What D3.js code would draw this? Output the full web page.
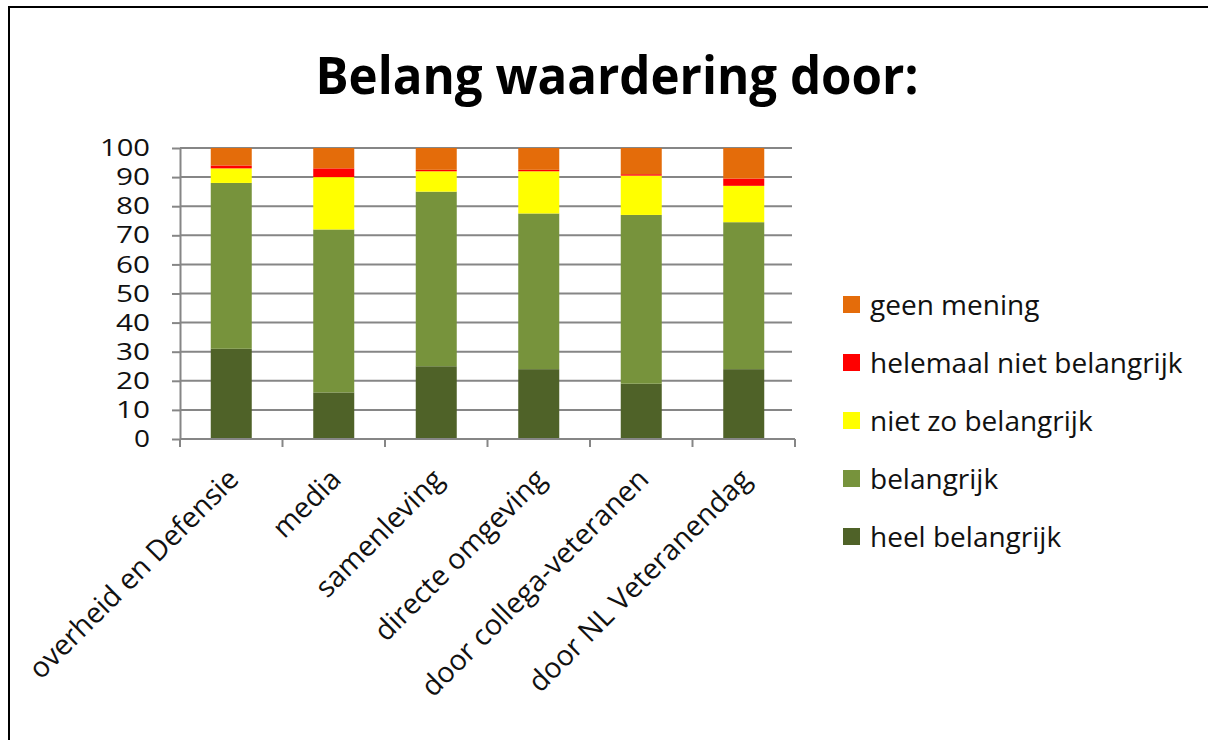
<!DOCTYPE html>
<meta charset="utf-8">
<title>Belang waardering door:</title>
<style>
  body { margin: 0; background-color: white; }
  text { font-family: "Open Sans", sans-serif; fill: #111; }
  .grid line { stroke: #868686; stroke-width: 2px; }
</style>
<svg width="1208" height="740"></svg>
<script src="https://cdn.jsdelivr.net/npm/d3@7"></script>
<script>
  // categories and series (percentages, stacked bottom to top)
  var categories = ["overheid en Defensie", "media", "samenleving", "directe omgeving",
                    "door collega-veteranen", "door NL Veteranendag"];
  var seriesNames = ["heel belangrijk", "belangrijk", "niet zo belangrijk",
                     "helemaal niet belangrijk", "geen mening"];
  var heelBelangrijk      = [31, 16, 25, 24, 19, 24];
  var belangrijk          = [57, 56, 60, 53.5, 58, 50.5];
  var nietZoBelangrijk    = [5, 18, 7, 14.5, 13.5, 12.5];
  var helemaalNiet        = [1, 3, 0.5, 0.5, 0.5, 2.5];
  var geenMening          = [6, 7, 7.5, 7.5, 9, 10.5];
  var yTicks = [0, 10, 20, 30, 40, 50, 60, 70, 80, 90, 100];
  var colors = ["#4f6228", "#77933c", "#ffff00", "#ff0000", "#e46c0a"];

  var svg = d3.select("svg");

  var table = categories.map(function(c, i) {
    return {
      cat: c,
      "heel belangrijk": heelBelangrijk[i],
      "belangrijk": belangrijk[i],
      "niet zo belangrijk": nietZoBelangrijk[i],
      "helemaal niet belangrijk": helemaalNiet[i],
      "geen mening": geenMening[i]
    };
  });

  var x = d3.scaleBand().domain(categories).range([180, 795])
            .paddingInner(0.6).paddingOuter(0.3);
  var y = d3.scaleLinear().domain([0, 100]).range([439, 148]);
  var color = d3.scaleOrdinal().domain(seriesNames).range(colors);

  // outer frame (left and top only)
  svg.append("path")
     .attr("d", "M9,740V7H1208")
     .attr("fill", "none")
     .attr("stroke", "#000")
     .attr("stroke-width", 2);

  svg.append("text")
     .attr("x", 617).attr("y", 94)
     .attr("text-anchor", "middle")
     .attr("textLength", 603).attr("lengthAdjust", "spacingAndGlyphs")
     .style("font-size", "52px").style("font-weight", "bold")
     .style("fill", "#000")
     .text("Belang waardering door:");

  // gridlines
  svg.append("g").attr("class", "grid")
     .selectAll("line").data(yTicks.slice(1)).enter().append("line")
     .attr("x1", 180).attr("x2", 792)
     .attr("y1", function(d) { return y(d); })
     .attr("y2", function(d) { return y(d); });

  // stacked bars
  var stack = d3.stack().keys(seriesNames)(table);
  svg.append("g").selectAll("g").data(stack).enter().append("g")
     .attr("fill", function(d) { return color(d.key); })
     .selectAll("rect").data(function(d) { return d; }).enter().append("rect")
     .attr("x", function(d) { return x(d.data.cat); })
     .attr("width", x.bandwidth())
     .attr("y", function(d) { return y(d[1]); })
     .attr("height", function(d) { return y(d[0]) - y(d[1]); });

  // y axis
  var yAxis = svg.append("g").attr("transform", "translate(180,0)")
     .call(d3.axisLeft(y).tickValues(yTicks).tickSizeInner(8).tickSizeOuter(0).tickPadding(22));
  yAxis.select(".domain").attr("stroke", "#868686").attr("stroke-width", 2);
  yAxis.selectAll(".tick line").attr("stroke", "#868686").attr("stroke-width", 2);
  yAxis.selectAll(".tick text").attr("fill", "#111")
       .attr("textLength", function(d) { return d >= 100 ? 50 : d >= 10 ? 34 : 16; })
       .attr("lengthAdjust", "spacingAndGlyphs")
       .style("font-size", "24px").style("font-family", "'Open Sans', sans-serif");

  // x axis with category boundary ticks
  var step = x.step();
  var bounds = categories.map(function(c) { return x(c) - step * 0.3; });
  bounds.push(x(categories[categories.length - 1]) + x.bandwidth() + step * 0.3);
  var xg = svg.append("g");
  xg.append("line").attr("x1", 180).attr("x2", bounds[bounds.length - 1])
    .attr("y1", y(0)).attr("y2", y(0))
    .attr("stroke", "#868686").attr("stroke-width", 2);
  xg.selectAll(".xt").data(bounds).enter().append("line")
    .attr("x1", function(d) { return d; }).attr("x2", function(d) { return d; })
    .attr("y1", y(0)).attr("y2", y(0) + 8)
    .attr("stroke", "#868686").attr("stroke-width", 2);
  xg.selectAll("text").data(categories).enter().append("text")
    .attr("transform", function(d) {
      return "translate(" + (x(d) + x.bandwidth() / 2 + 9) + "," + (y(0) + 42) + ") rotate(-45)";
    })
    .attr("text-anchor", "end")
    .style("font-size", "28.5px")
    .text(function(d) { return d; });

  // legend
  var legend = svg.append("g").selectAll("g")
     .data(seriesNames.slice().reverse()).enter().append("g")
     .attr("transform", function(d, i) { return "translate(843," + (305 + i * 58) + ")"; });
  legend.append("rect")
     .attr("x", 0).attr("y", -9).attr("width", 17).attr("height", 17)
     .attr("fill", function(d) { return color(d); });
  legend.append("text")
     .attr("x", 27).attr("y", 0).attr("dy", "0.35em")
     .style("font-size", "28px")
     .text(function(d) { return d; });
</script>
